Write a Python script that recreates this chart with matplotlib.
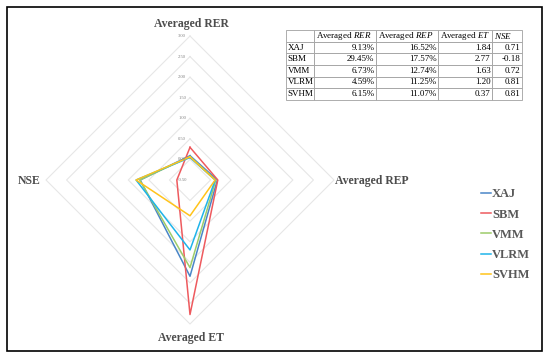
import matplotlib
matplotlib.use('Agg')
import matplotlib.pyplot as plt
from matplotlib.lines import Line2D
from matplotlib.patches import Rectangle
from matplotlib.table import Table

plt.rcParams['font.family'] = ['Liberation Serif', 'DejaVu Serif']
plt.rcParams['mathtext.fontset'] = 'custom'
plt.rcParams['mathtext.rm'] = 'Liberation Serif'
plt.rcParams['mathtext.it'] = 'Liberation Serif:italic'

# data
models = ['XAJ', 'SBM', 'VMM', 'VLRM', 'SVHM']
rer = [0.0913, 0.2945, 0.0673, 0.0459, 0.0615]
rep = [0.1652, 0.1757, 0.1274, 0.1125, 0.1107]
et = [1.84, 2.77, 1.63, 1.20, 0.37]
nse = [0.71, -0.18, 0.72, 0.81, 0.81]
axis_names = ['Averaged RER', 'Averaged REP', 'Averaged ET', 'NSE']
levels = [-0.5, 0.0, 0.5, 1.0, 1.5, 2.0, 2.5, 3.0]
colors = ['#4a86c8', '#ee5a5e', '#9dcc6a', '#1fb4ea', '#ffc31a']

tab_head = ['', 'Averaged $\\mathit{RER}$', 'Averaged $\\mathit{REP}$',
            'Averaged $\\mathit{ET}$', '$\\mathit{NSE}$']
tab_rer = ['9.13%', '29.45%', '6.73%', '4.59%', '6.15%']
tab_rep = ['16.52%', '17.57%', '12.74%', '11.25%', '11.07%']
tab_et = ['1.84', '2.77', '1.63', '1.20', '0.37']
tab_nse = ['0.71', '-0.18', '0.72', '0.81', '0.81']

W, H = 550, 360
fx = lambda px: px / W
fy = lambda py: 1 - py / H

fig = plt.figure(figsize=(5.5, 3.6), dpi=100)
fig.patches.append(Rectangle((fx(7), fy(351)), fx(542) - fx(7), (351 - 7) / H,
                             transform=fig.transFigure, fill=False,
                             edgecolor='black', linewidth=1.2))

# radar drawn on plain axes, axes: up=RER, right=REP, down=ET, left=NSE
lo = levels[0]
L = (levels[-1] - lo) * 160 / 144
ax = fig.add_axes([fx(30), fy(340), 320 / W, 320 / H])
ax.set_xlim(-L, L)
ax.set_ylim(-L, L)
ax.axis('off')

dirs = [(0, 1), (1, 0), (0, -1), (-1, 0)]
for lv in levels[1:]:
    r = lv - lo
    xs = [d[0] * r for d in dirs] + [0]
    ys = [d[1] * r for d in dirs] + [r]
    ax.plot(xs, ys, color='#e6e6e6', lw=0.8, zorder=1)
for lv in levels:
    ax.text(-0.19, lv - lo, '%.2f' % lv, fontsize=3.3, color='#808080',
            ha='center', va='center', zorder=3)

handles = []
for i, m in enumerate(models):
    vals = [rer[i], rep[i], et[i], nse[i]]
    xs = [d[0] * (v - lo) for d, v in zip(dirs, vals)]
    ys = [d[1] * (v - lo) for d, v in zip(dirs, vals)]
    ax.plot(xs + xs[:1], ys + ys[:1], color=colors[i], lw=1.1, zorder=2)
    handles.append(Line2D([], [], color=colors[i], lw=1.1, label=m))

lab = dict(fontsize=8.5, fontweight='bold', color='#4d4d4d', va='center')
fig.text(fx(191), fy(24), axis_names[0], ha='center', **lab)
fig.text(fx(372), fy(181), axis_names[1], ha='center', **lab)
fig.text(fx(191), fy(338), axis_names[2], ha='center', **lab)
fig.text(fx(29), fy(181), axis_names[3], ha='center', **lab)

fig.legend(handles=handles, loc='upper left', bbox_to_anchor=(fx(475), fy(182)),
           frameon=False, handlelength=0.75, handletextpad=0.1,
           labelspacing=0.66, borderpad=0,
           prop={'weight': 'bold', 'size': 9}, labelcolor='#595959')

# table
tx0, tx1, ty0, ty1 = 286, 522, 30, 100
tax = fig.add_axes([fx(tx0), fy(ty1), (tx1 - tx0) / W, (ty1 - ty0) / H])
tax.axis('off')
col_w = [28, 62, 62, 54, 30]
rows = [tab_head] + [[models[i], tab_rer[i], tab_rep[i], tab_et[i], tab_nse[i]]
                     for i in range(len(models))]
tbl = Table(tax, bbox=[0, 0, 1, 1])
for r, row in enumerate(rows):
    for c, txt in enumerate(row):
        loc = 'left' if (r == 0 or c == 0) else 'right'
        cell = tbl.add_cell(r, c, width=col_w[c], height=1, text=txt, loc=loc,
                            edgecolor='#a0a0a0')
        cell.set_linewidth(0.6)
        cell.PAD = 1.5 / col_w[c]
        cell.get_text().set_fontsize(6.5)
tbl.auto_set_font_size(False)
tax.add_table(tbl)

fig.savefig('out.png', dpi=100)
